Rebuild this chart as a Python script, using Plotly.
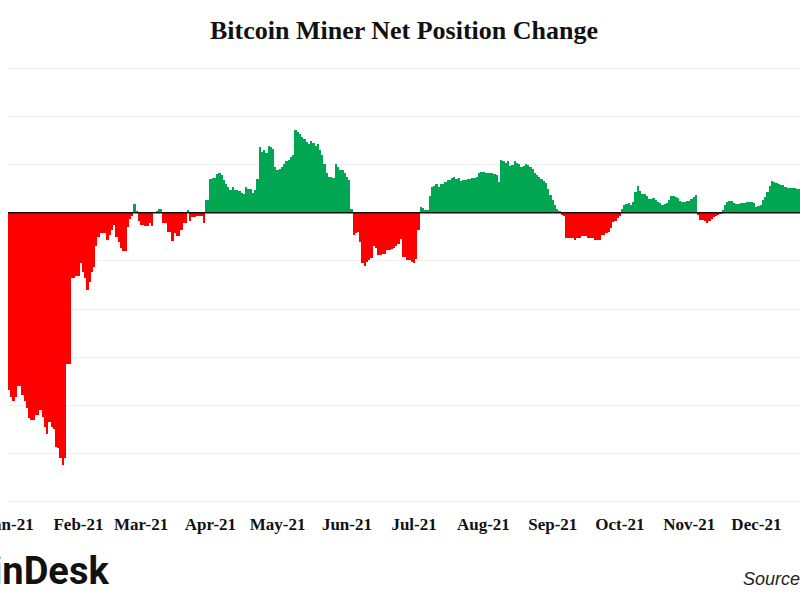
import pandas as pd
import plotly.graph_objects as go

# Daily 30-day net position change of miner balances (thousand BTC)
start_date = "2021-01-01"
net_change = [
    -18.4, -19.1, -19.6, -19.1, -18.0, -18.0, -18.9, -19.6, -20.3, -21.3,
    -21.5, -21.5, -21.0, -21.0, -20.5, -21.2, -22.3, -23.0, -21.7, -22.2,
    -22.5, -24.3, -24.4, -25.5, -26.2, -25.5, -15.7, -15.7, -6.8, -6.8,
    -6.6, -6.6, -5.2, -6.1, -6.8, -8.0, -7.2, -6.1, -5.6, -3.4,
    -2.5, -2.1, -2.1, -2.1, -2.8, -2.3, -1.8, -1.3, -2.5, -3.0,
    -3.7, -4.0, -4.0, -1.5, -0.6, -0.3, 0.9, 0.2, -0.8, -1.3,
    -1.3, -1.4, -1.4, -1.1, -1.4, 0.0, 0.1, 0.4, 0.4, -1.1,
    -1.1, -2.0, -2.0, -2.9, -2.1, -2.4, -2.4, -1.8, -1.1, -1.1,
    0.3, -0.8, -0.4, -0.4, -0.3, -0.3, -0.3, -1.1, 1.3, 1.3,
    3.5, 3.6, 3.6, 4.0, 4.1, 3.9, 3.4, 3.0, 2.7, 2.4,
    2.7, 2.4, 2.35, 2.3, 2.1, 2.0, 2.7, 2.5, 2.5, 2.1,
    2.35, 3.5, 6.8, 6.3, 6.5, 6.2, 6.9, 6.8, 6.6, 4.8,
    4.4, 4.6, 4.8, 5.1, 5.4, 5.5, 5.8, 6.0, 8.6, 8.4,
    8.2, 7.9, 7.7, 7.4, 7.1, 7.5, 7.3, 6.9, 7.1, 6.5,
    6.0, 5.1, 4.1, 3.7, 3.7, 3.6, 5.1, 4.8, 4.4, 4.4,
    4.1, 3.7, 3.4, 0.4, -2.3, -2.1, -2.0, -3.0, -5.2, -5.5,
    -5.1, -4.9, -4.7, -3.5, -3.7, -4.4, -4.4, -4.3, -4.3, -3.9,
    -3.9, -3.8, -3.7, -3.5, -3.2, -2.7, -4.6, -4.6, -4.9, -4.9,
    -5.1, -5.2, -4.8, -1.8, 0.6, 0.5, 0.3, 0.3, 1.7, 2.7,
    2.8, 3.0, 2.7, 3.0, 3.0, 3.2, 3.4, 3.4, 3.6, 3.7,
    3.5, 3.6, 3.3, 3.4, 3.4, 3.5, 3.5, 3.6, 3.6, 3.7,
    4.1, 4.2, 4.2, 4.1, 4.1, 4.1, 4.1, 4.0, 3.9, 3.2,
    5.5, 5.4, 5.2, 5.4, 4.9, 5.0, 5.4, 5.2, 5.1, 4.8,
    4.9, 5.1, 5.0, 4.8, 4.5, 4.1, 3.9, 3.7, 3.5, 3.3,
    3.1, 2.5, 1.8, 1.3, 0.8, 0.4, 0.2, -0.2, -0.3, -2.6,
    -2.6, -2.6, -2.6, -2.8, -2.6, -2.6, -2.4, -2.4, -2.4, -2.6,
    -2.6, -2.6, -2.8, -2.8, -2.8, -2.3, -2.3, -2.1, -2.0, -1.6,
    -1.0, -0.9, -0.5, -0.3, 0.4, 0.8, 0.9, 1.0, 0.8, 1.1,
    2.2, 2.8, 2.3, 2.0, 2.0, 1.7, 1.4, 1.4, 1.5, 1.3,
    1.1, 1.0, 0.8, 0.9, 1.0, 1.3, 1.7, 1.7, 1.6, 1.5,
    1.2, 1.1, 1.1, 1.2, 1.2, 1.4, 1.6, 1.8, -0.2, -0.7,
    -0.7, -0.8, -1.1, -0.9, -0.6, -0.4, -0.3, -0.2, -0.1, 0.3,
    0.8, 1.1, 1.2, 1.2, 1.0, 0.9, 0.9, 1.0, 1.0, 1.0,
    1.1, 1.1, 1.1, 1.0, 0.6, 0.7, 0.8, 1.3, 1.6, 2.2,
    2.8, 3.3, 3.2, 3.1, 3.0, 2.9, 2.9, 2.7, 2.6, 2.6,
    2.6, 2.6, 2.5, 2.5,
]
month_ticks = ["2021-01-01", "2021-02-01", "2021-03-01", "2021-04-01", "2021-05-01",
               "2021-06-01", "2021-07-01", "2021-08-01", "2021-09-01", "2021-10-01",
               "2021-11-01", "2021-12-01"]
month_labels = ["Jan-21", "Feb-21", "Mar-21", "Apr-21", "May-21", "Jun-21",
                "Jul-21", "Aug-21", "Sep-21", "Oct-21", "Nov-21", "Dec-21"]

GREEN = "#00A651"
RED = "#FF0000"

dates = pd.date_range(start_date, periods=len(net_change), freq="D")
colors = [GREEN if v >= 0 else RED for v in net_change]

fig = go.Figure()
fig.add_trace(go.Bar(
    x=dates, y=net_change,
    marker=dict(color=colors, line=dict(width=0)),
    hoverinfo="x+y",
))

serif = "Liberation Serif"
fig.update_layout(
    width=800, height=600,
    margin=dict(l=8, r=0, t=66, b=96, autoexpand=False),
    paper_bgcolor="white", plot_bgcolor="white",
    bargap=0,
    showlegend=False,
    title=dict(
        text="<b>Bitcoin Miner Net Position Change</b>",
        x=0.5, xref="paper", xanchor="center",
        y=0.95, yref="container", yanchor="middle",
        font=dict(family=serif, size=26, color="#111111"),
    ),
    xaxis=dict(
        type="date",
        range=["2020-12-31 12:00", "2021-12-20 12:00"],
        tickmode="array", tickvals=month_ticks, ticktext=month_labels,
        showgrid=False, zeroline=False, showline=False, ticks="",
        tickfont=dict(family=serif, size=17, color="#111111", weight="bold"),
        ticklabelstandoff=8,
        ticklabeloverflow="allow",
        automargin=False,
    ),
    yaxis=dict(
        range=[-30.25, 15.25],
        tickmode="linear", tick0=0, dtick=5,
        showgrid=True, gridcolor="#efefef", gridwidth=1,
        zeroline=False, showline=False, showticklabels=False, ticks="",
        automargin=False,
    ),
    shapes=[dict(type="line", xref="paper", yref="y", x0=0, x1=1, y0=0, y1=0,
                 line=dict(color="#111111", width=1.5), layer="above")],
    annotations=[
        dict(text="CoinDesk", xref="paper", yref="paper", x=0.130, y=-0.152,
             xanchor="right", yanchor="middle", showarrow=False,
             font=dict(family="Roboto", size=38, color="#111111", weight="bold")),
        dict(text="Source: Glassnode", xref="paper", yref="paper", x=0.926, y=-0.171,
             xanchor="left", yanchor="middle", showarrow=False,
             font=dict(family="Liberation Sans", size=18, color="#222222", style="italic")),
    ],
)

fig.write_html("out.html")
